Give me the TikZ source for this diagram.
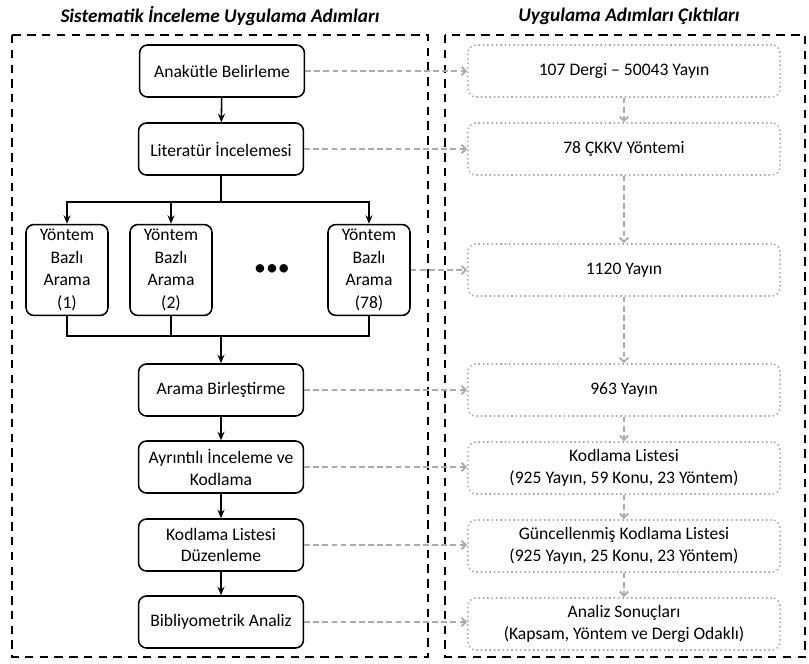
\documentclass[tikz,border=0pt]{standalone}
\usepackage{fontspec}
\setmainfont{Carlito}
\usetikzlibrary{arrows.meta}
\definecolor{outgray}{RGB}{172,172,172}

\tikzset{
    stepbox/.style={draw, rounded corners=0.2cm, line width=1.1pt, minimum width=4.12cm, minimum height=1.3cm, align=center, font=\fontsize{12.5}{15.5}\selectfont},
    searchbox/.style={stepbox, minimum width=2.05cm, minimum height=2.27cm, font=\fontsize{12.5}{16}\selectfont},
    outbox/.style={draw=outgray, dotted, rounded corners=0.2cm, line width=1.1pt, minimum width=7.8cm, minimum height=1.3cm, align=center, font=\fontsize{12.5}{16}\selectfont},
    flow/.style={line width=1.1pt, -{Stealth[length=6pt,width=5pt]}},
    link/.style={line width=1.1pt},
    outflow/.style={outgray, line width=1.4pt, dash pattern=on 4pt off 2.5pt, -{Straight Barb[length=3pt,width=6pt]}},
    frame/.style={line width=1.6pt, dash pattern=on 6pt off 4.5pt},
    heading/.style={font=\fontsize{13.7}{16}\selectfont\bfseries\itshape}
}

\begin{document}
\begin{tikzpicture}[x=0.025cm, y=-0.025cm]
        \useasboundingbox (0,0) rectangle (809,664);

        \node[heading] (lefttitle) at (220,16) {Sistematik İnceleme Uygulama Adımları};
        \node[heading] (righttitle) at (629,16) {Uygulama Adımları Çıktıları};

        \draw[frame] (12,35) rectangle (428,657);
        \draw[frame] (445,35) rectangle (805,657);

        \node[stepbox] (anakutle) at (222,71) {Anakütle Belirleme};
        \node[stepbox] (literatur) at (221,149) {Literatür İncelemesi};
        \node[searchbox] (yontem1) at (67,270) {Yöntem\\Bazlı\\Arama\\(1)};
        \node[searchbox] (yontem2) at (171,270) {Yöntem\\Bazlı\\Arama\\(2)};
        \node[font=\fontsize{17}{17}\selectfont] (dots) at (272,270) {•••};
        \node[searchbox] (yontem78) at (369,270) {Yöntem\\Bazlı\\Arama\\(78)};
        \node[stepbox] (birlestirme) at (221,390) {Arama Birleştirme};
        \node[stepbox] (kodlama) at (221,467) {Ayrıntılı İnceleme ve\\Kodlama};
        \node[stepbox] (duzenleme) at (221,545) {Kodlama Listesi\\Düzenleme};
        \node[stepbox] (analiz) at (221,622) {Bibliyometrik Analiz};

        \coordinate (split) at (221,202);
        \coordinate (merge) at (221,336);

        \draw[flow] (anakutle) -- (literatur);
        \draw[link] (literatur) -- (split);
        \draw[flow] (split) -| (yontem1);
        \draw[flow] (split) -| (yontem2);
        \draw[flow] (split) -| (yontem78);
        \draw[link] (yontem1) |- (merge);
        \draw[link] (yontem2) |- (merge);
        \draw[link] (yontem78) |- (merge);
        \draw[flow] (merge) -- (birlestirme);
        \draw[flow] (birlestirme) -- (kodlama);
        \draw[flow] (kodlama) -- (duzenleme);
        \draw[flow] (duzenleme) -- (analiz);

        \node[outbox] (dergi) at (624,71) {107 Dergi – 50043 Yayın};
        \node[outbox] (ckkv) at (624,149) {78 ÇKKV Yöntemi};
        \node[outbox] (yayin1120) at (624,270) {1120 Yayın};
        \node[outbox] (yayin963) at (624,390) {963 Yayın};
        \node[outbox] (liste) at (624,468) {Kodlama Listesi\\(925 Yayın, 59 Konu, 23 Yöntem)};
        \node[outbox] (guncel) at (624,546) {Güncellenmiş Kodlama Listesi\\(925 Yayın, 25 Konu, 23 Yöntem)};
        \node[outbox] (sonuc) at (624,624) {Analiz Sonuçları\\(Kapsam, Yöntem ve Dergi Odaklı)};

        \draw[outflow] (dergi) -- (ckkv);
        \draw[outflow] (ckkv) -- (yayin1120);
        \draw[outflow] (yayin1120) -- (yayin963);
        \draw[outflow] (yayin963) -- (liste);
        \draw[outflow] (liste) -- (guncel);
        \draw[outflow] (guncel) -- (sonuc);

        \draw[outflow] (anakutle) -- (dergi);
        \draw[outflow] (literatur) -- (ckkv);
        \draw[outflow] (yontem78) -- (yayin1120);
        \draw[outflow] (birlestirme) -- (yayin963);
        \draw[outflow] (kodlama.east) -- (kodlama.east -| liste.west);
        \draw[outflow] (duzenleme.east) -- (duzenleme.east -| guncel.west);
        \draw[outflow] (analiz.east) -- (analiz.east -| sonuc.west);
\end{tikzpicture}
\end{document}
